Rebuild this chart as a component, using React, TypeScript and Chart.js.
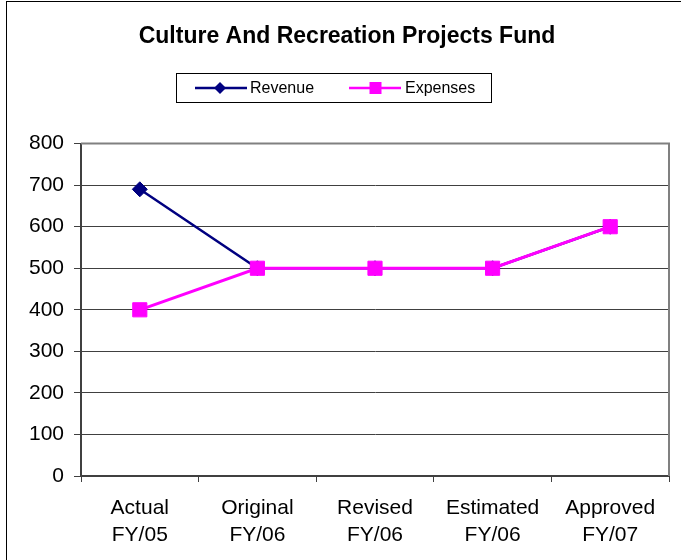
import React, { useEffect, useRef } from 'react';
import { Chart, registerables } from 'chart.js';

Chart.register(...registerables);

const chartTitle = 'Culture And Recreation Projects Fund';
const categories: string[][] = [
  ['Actual', 'FY/05'],
  ['Original', 'FY/06'],
  ['Revised', 'FY/06'],
  ['Estimated', 'FY/06'],
  ['Approved', 'FY/07'],
];
const seriesNames = ['Revenue', 'Expenses'];
const revenue = [690, 500, 500, 500, 600];
const expenses = [400, 500, 500, 500, 600];
const yMin = 0;
const yMax = 800;
const yStep = 100;

const FONT = '"Liberation Sans", Arial, sans-serif';
const NAVY = '#000080';
const MAGENTA = '#FF00FF';

const framePlugin = {
  id: 'frame',
  beforeDraw(chart: any) {
    const ctx = chart.ctx;
    ctx.save();
    ctx.fillStyle = '#fff';
    ctx.fillRect(0, 0, chart.width, chart.height);
    ctx.strokeStyle = '#000';
    ctx.lineWidth = 1;
    ctx.strokeRect(6.5, 1.5, 1000, 1000);
    ctx.restore();
  },
  afterDraw(chart: any) {
    const { ctx, chartArea } = chart;
    ctx.save();
    ctx.strokeStyle = '#808080';
    ctx.lineWidth = 2;
    ctx.beginPath();
    ctx.moveTo(chartArea.left, chartArea.top);
    ctx.lineTo(chartArea.right, chartArea.top);
    ctx.lineTo(chartArea.right, chartArea.bottom);
    ctx.stroke();

    // legend box
    ctx.strokeStyle = '#000';
    ctx.lineWidth = 1;
    ctx.strokeRect(176.5, 73.5, 315, 29);
    const y = 88;
    const items = [
      { x0: 195, x1: 247, mx: 220, tx: 250, color: NAVY, style: 'diamond' },
      { x0: 349, x1: 401, mx: 375.5, tx: 405, color: MAGENTA, style: 'square' },
    ];
    items.forEach((it, i) => {
      ctx.strokeStyle = it.color;
      ctx.lineWidth = 2.5;
      ctx.beginPath();
      ctx.moveTo(it.x0, y);
      ctx.lineTo(it.x1, y);
      ctx.stroke();
      ctx.fillStyle = it.color;
      ctx.beginPath();
      if (it.style === 'diamond') {
        ctx.moveTo(it.mx, y - 6);
        ctx.lineTo(it.mx + 6, y);
        ctx.lineTo(it.mx, y + 6);
        ctx.lineTo(it.mx - 6, y);
        ctx.closePath();
      } else {
        ctx.rect(it.mx - 6, y - 6, 12, 12);
      }
      ctx.fill();
      ctx.fillStyle = '#000';
      ctx.font = `16px ${FONT}`;
      ctx.textBaseline = 'middle';
      ctx.textAlign = 'left';
      ctx.fillText(seriesNames[i], it.tx, y + 1);
    });
    ctx.restore();
  },
};

export default function App() {
  const ref = useRef<HTMLCanvasElement | null>(null);
  useEffect(() => {
    if (!ref.current) return;
    const chart = new Chart(ref.current, {
      type: 'line',
      data: {
        labels: categories as any,
        datasets: [
          {
            label: seriesNames[0],
            data: revenue,
            borderColor: NAVY,
            backgroundColor: NAVY,
            borderWidth: 2.5,
            pointStyle: 'rectRot',
            pointRadius: 7.5,
            pointBorderWidth: 1,
            pointBackgroundColor: NAVY,
            pointBorderColor: NAVY,
            tension: 0,
            order: 1,
          },
          {
            label: seriesNames[1],
            data: expenses,
            borderColor: MAGENTA,
            backgroundColor: MAGENTA,
            borderWidth: 3,
            pointStyle: 'rect',
            pointRadius: 10,
            pointBorderWidth: 1,
            pointBackgroundColor: MAGENTA,
            pointBorderColor: MAGENTA,
            tension: 0,
            order: 0,
          },
        ],
      },
      options: {
        animation: false,
        responsive: false,
        events: [],
        layout: { padding: { left: 25, right: 12, top: 0, bottom: 0 } },
        plugins: {
          legend: { display: false },
          tooltip: { enabled: false },
          title: {
            display: true,
            text: chartTitle,
            color: '#000',
            font: { family: FONT, size: 23, weight: 'bold' },
            padding: { top: 23, bottom: 93 },
          },
        },
        scales: {
          x: {
            type: 'category',
            offset: true,
            grid: {
              offset: true,
              drawOnChartArea: false,
              drawTicks: true,
              tickLength: 6,
              color: '#404040',
            },
            border: { color: '#404040', width: 2 },
            ticks: {
              color: '#000',
              font: { family: FONT, size: 21, lineHeight: 1.29 },
              padding: 13,
              maxRotation: 0,
              autoSkip: false,
            },
            afterFit(scale: any) {
              scale.height = 84;
            },
          },
          y: {
            min: yMin,
            max: yMax,
            grid: { color: '#404040', lineWidth: 1, tickLength: 7 },
            border: { color: '#404040', width: 2 },
            ticks: {
              stepSize: yStep,
              color: '#000',
              font: { family: FONT, size: 21 },
              padding: 10,
            },
            afterFit(scale: any) {
              scale.width = 56;
            },
          },
        },
      },
      plugins: [framePlugin],
    });
    return () => chart.destroy();
  }, []);
  return (
    <div style={{ position: 'absolute', left: 0, top: 0, width: 681, height: 560, overflow: 'hidden' }}>
      <canvas ref={ref} width={681} height={560} />
    </div>
  );
}
